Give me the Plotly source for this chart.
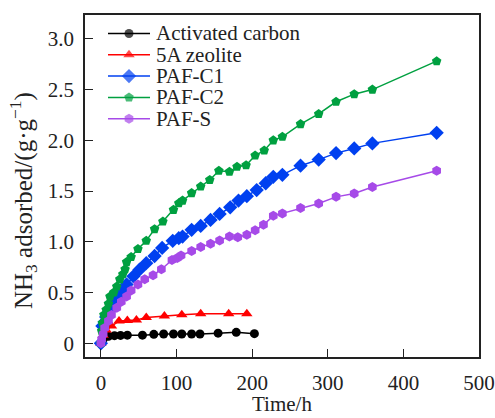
import plotly.graph_objects as go

# ---- data ----
ac_t = [0, 3, 10, 18, 26, 35, 55, 70, 83, 96, 107, 120, 131, 155, 179, 203]
ac_v = [0, 0.04, 0.07, 0.075, 0.078, 0.08, 0.08, 0.088, 0.092, 0.092, 0.092, 0.092, 0.092, 0.10, 0.108, 0.095]

z5a_t = [0, 3, 7, 14, 24, 35, 47, 60, 84, 107, 132, 169, 193]
z5a_v = [0, 0.08, 0.13, 0.17, 0.22, 0.225, 0.23, 0.255, 0.27, 0.282, 0.29, 0.292, 0.292]

c1_t = [0, 2, 5, 7, 12, 17, 23, 29, 34, 43, 51, 60, 71, 81, 95, 103, 108, 120, 132, 145,
        157, 171, 182, 193, 206, 218, 228, 240, 264, 288, 311, 335, 359, 444]
c1_v = [0, 0.17, 0.21, 0.26, 0.32, 0.39, 0.45, 0.51, 0.58, 0.66, 0.725, 0.79, 0.86, 0.94, 1.01,
        1.036, 1.052, 1.118, 1.157, 1.216, 1.275, 1.34, 1.406, 1.45, 1.51, 1.577, 1.64, 1.66,
        1.75, 1.81, 1.874, 1.92, 1.97, 2.074]

c2_t = [0, 1, 2, 4, 7, 10, 12, 17, 21, 25, 29, 32, 34, 40, 49, 60, 71, 82, 96, 103, 108, 120,
        132, 144, 156, 170, 180, 192, 204, 216, 228, 240, 264, 288, 311, 335, 359, 444]
c2_v = [0, 0.12, 0.2, 0.28, 0.33, 0.39, 0.46, 0.5, 0.56, 0.63, 0.68, 0.73, 0.8, 0.85, 0.93, 1.01,
        1.125, 1.2, 1.315, 1.38, 1.406, 1.48, 1.545, 1.61, 1.70, 1.69, 1.74, 1.755, 1.85, 1.90,
        2.0, 2.035, 2.16, 2.26, 2.38, 2.455, 2.50, 2.78]

s_t = [0, 1, 3, 5, 10, 14, 21, 27, 34, 40, 49, 58, 69, 80, 94, 101, 106, 120, 132, 145, 157,
       170, 181, 193, 204, 215, 228, 240, 264, 288, 311, 335, 359, 444]
s_v = [0, 0.04, 0.09, 0.15, 0.22, 0.28, 0.35, 0.41, 0.46, 0.52, 0.58, 0.63, 0.67, 0.73, 0.82,
       0.84, 0.865, 0.91, 0.948, 0.98, 1.013, 1.052, 1.046, 1.069, 1.113, 1.167, 1.256, 1.28,
       1.334, 1.378, 1.443, 1.476, 1.54, 1.70]

series_names = ["Activated carbon", "5A zeolite", "PAF-C1", "PAF-C2", "PAF-S"]
x_ticks = [0, 100, 200, 300, 400, 500]
y_ticks = [0, 0.5, 1.0, 1.5, 2.0, 2.5, 3.0]
y_ticktext = ["0", "0.5", "1.0", "1.5", "2.0", "2.5", "3.0"]
x_title = "Time/h"
y_title = "NH<sub>3</sub> adsorbed/(g·g<sup>−1</sup>)"

colors = ["#000000", "#ff0000", "#0040f0", "#00a040", "#a64ae8"]
symbols = ["circle", "triangle-up", "diamond", "pentagon", "hexagon"]
sizes = [9, 10, 11, 10, 10]

FONT = "Liberation Serif, Times New Roman, serif"
FS = 21

W, H = 495, 418
ML, MR, MT, MB = 85, 16, 15, 61
PW, PH = W - ML - MR, H - MT - MB

def px2fx(px):
    return (px - ML) / PW
def py2fy(py):
    return (MT + PH - py) / PH

fig = go.Figure()
for name, t, v, c, s, sz in zip(series_names,
                                [ac_t, z5a_t, c1_t, c2_t, s_t],
                                [ac_v, z5a_v, c1_v, c2_v, s_v],
                                colors, symbols, sizes):
    fig.add_trace(go.Scatter(
        x=t, y=v, name=name, mode="lines+markers", showlegend=False,
        line=dict(color=c, width=1.5),
        marker=dict(symbol=s, size=sz, color=c, line=dict(width=0)),
    ))

# ---- compact legend (line + marker sample, text) on an overlay axis in [0,1] ----
leg_x0, leg_x1, leg_tx = 108, 150, 154       # pixel positions
leg_y0, leg_dy = 33.5, 21.3
annotations = []
for i, (name, c, s, sz) in enumerate(zip(series_names, colors, symbols, sizes)):
    fy = py2fy(leg_y0 + i * leg_dy)
    fig.add_trace(go.Scatter(
        x=[px2fx(leg_x0), px2fx((leg_x0 + leg_x1) / 2), px2fx(leg_x1)],
        y=[fy, fy, fy], xaxis="x2", yaxis="y2", mode="lines+markers",
        showlegend=False, hoverinfo="skip",
        line=dict(color=c, width=1.5),
        marker=dict(symbol=s, size=[0, sz, 0], color=c, line=dict(width=0)),
    ))
    annotations.append(dict(
        x=px2fx(leg_tx), y=fy, xref="paper", yref="paper", text=name, showarrow=False,
        xanchor="left", yanchor="middle", height=20,
        font=dict(family=FONT, size=FS, color="#222"),
    ))

# axis titles placed as annotations
annotations.append(dict(
    x=px2fx(282), y=py2fy(404), xref="paper", yref="paper", text=x_title,
    showarrow=False, xanchor="center", yanchor="middle",
    font=dict(family=FONT, size=FS, color="#222"),
))
annotations.append(dict(
    x=px2fx(23), y=py2fy(201), xref="paper", yref="paper", text=y_title,
    showarrow=False, xanchor="center", yanchor="middle", textangle=-90,
    font=dict(family=FONT, size=25, color="#222"),
))

axis_common = dict(
    showline=True, linecolor="#222", linewidth=1.5, mirror=True,
    ticks="inside", ticklen=8, tickwidth=1.2, tickcolor="#222",
    showgrid=False, zeroline=False, automargin=False,
    tickfont=dict(family=FONT, size=FS, color="#222"),
)

fig.update_layout(
    width=W, height=H,
    margin=dict(l=ML, r=MR, t=MT, b=MB, autoexpand=False),
    paper_bgcolor="white", plot_bgcolor="white",
    font=dict(family=FONT, size=FS, color="#222"),
    showlegend=False,
    annotations=annotations,
    xaxis=dict(range=[-21, 500], tickvals=x_ticks, ticklabelstandoff=6, **axis_common),
    yaxis=dict(range=[-0.135, 3.235], tickvals=y_ticks, ticktext=y_ticktext,
               ticklabelstandoff=5, **axis_common),
    xaxis2=dict(overlaying="x", range=[0, 1], visible=False, fixedrange=True),
    yaxis2=dict(overlaying="y", range=[0, 1], visible=False, fixedrange=True),
)

fig.write_html("out.html", config={"displayModeBar": False},
               post_script="document.body.style.margin='0px';document.body.style.padding='0px';")
